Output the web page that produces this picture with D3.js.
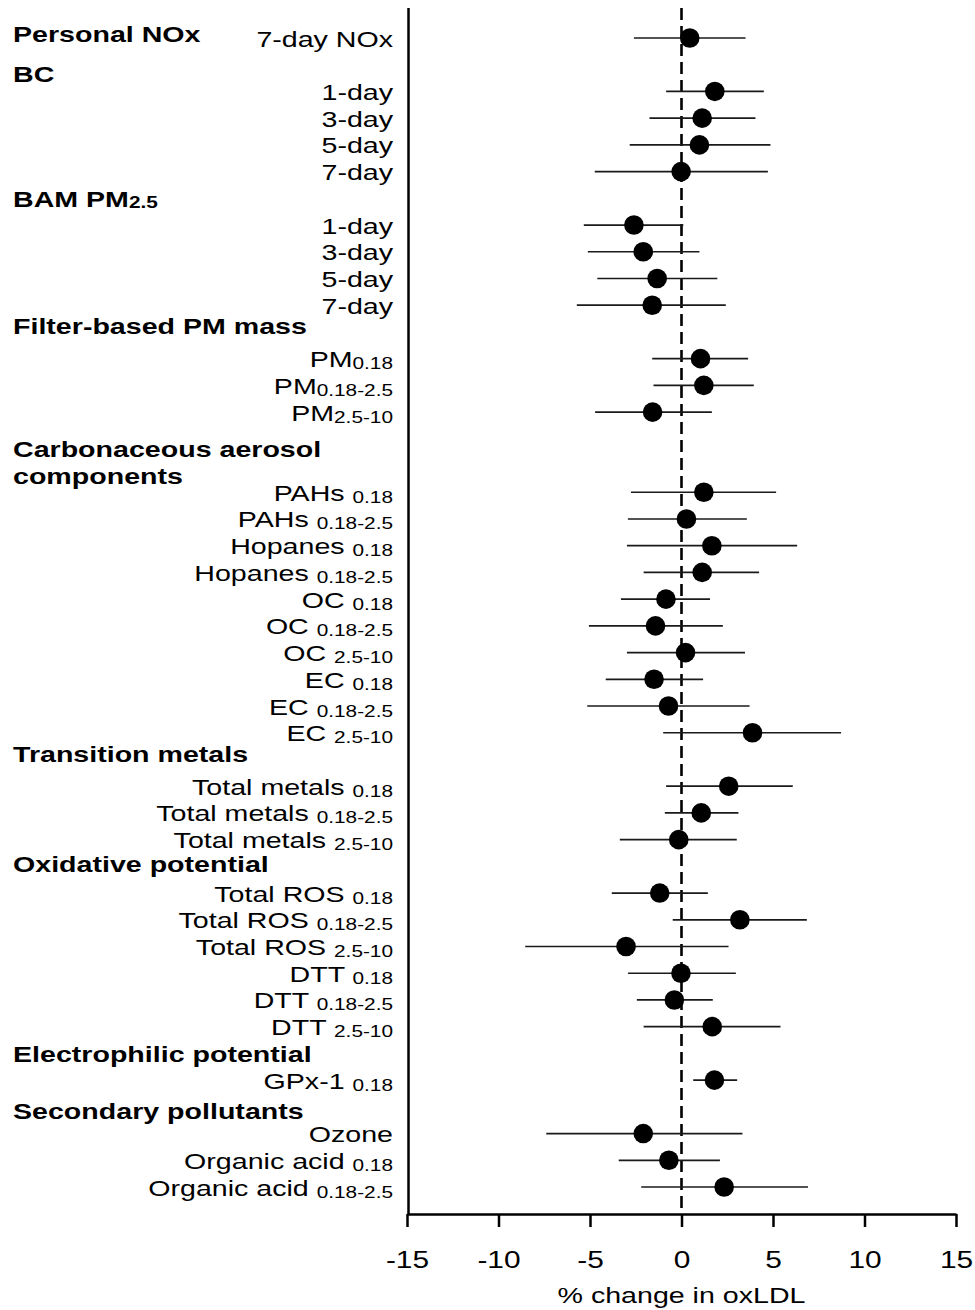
<!DOCTYPE html>
<html>
<head>
<meta charset="utf-8">
<script src="https://cdn.jsdelivr.net/npm/d3@7"></script>
<style>
  html, body { margin: 0; padding: 0; background: #fff; }
  svg { display: block; font-family: "Liberation Sans", Arial, sans-serif; }
</style>
</head>
<body>
<svg id="chart" width="975" height="1310"></svg>
<script>
// Exposure groups, in display order
const groupTitle = [
  "Personal NOx", "BC", "BAM PM", "Filter-based PM mass",
  "Carbonaceous aerosol|components", "Transition metals",
  "Oxidative potential", "Electrophilic potential", "Secondary pollutants"
];
const groupTitleSub = ["", "", "2.5", "", "", "", "", "", ""];
const groupSize = [1, 4, 4, 3, 10, 3, 6, 1, 3];

// Exposure metrics (main label + size-fraction subscript)
const itemLabel = [
  "7-day NOx",
  "1-day", "3-day", "5-day", "7-day",
  "1-day", "3-day", "5-day", "7-day",
  "PM", "PM", "PM",
  "PAHs ", "PAHs ", "Hopanes ", "Hopanes ", "OC ", "OC ", "OC ", "EC ", "EC ", "EC ",
  "Total metals ", "Total metals ", "Total metals ",
  "Total ROS ", "Total ROS ", "Total ROS ", "DTT ", "DTT ", "DTT ",
  "GPx-1 ",
  "Ozone", "Organic acid ", "Organic acid "
];
const itemSub = [
  "",
  "", "", "", "",
  "", "", "", "",
  "0.18", "0.18-2.5", "2.5-10",
  "0.18", "0.18-2.5", "0.18", "0.18-2.5", "0.18", "0.18-2.5", "2.5-10", "0.18", "0.18-2.5", "2.5-10",
  "0.18", "0.18-2.5", "2.5-10",
  "0.18", "0.18-2.5", "2.5-10", "0.18", "0.18-2.5", "2.5-10",
  "0.18",
  "", "0.18", "0.18-2.5"
];

// % change in oxLDL: point estimate and 95% CI
const estimate = [
  0.45,
  1.82, 1.13, 0.98, -0.02,
  -2.6, -2.09, -1.33, -1.6,
  1.04, 1.22, -1.58,
  1.22, 0.27, 1.66, 1.13, -0.85, -1.42, 0.22, -1.5, -0.71, 3.88,
  2.58, 1.08, -0.15,
  -1.19, 3.19, -3.03, -0.03, -0.39, 1.68,
  1.8,
  -2.09, -0.69, 2.33
];
const lower = [
  -2.6,
  -0.84, -1.75, -2.83, -4.74,
  -5.34, -5.12, -4.6, -5.72,
  -1.6, -1.53, -4.72,
  -2.76, -2.93, -2.98, -2.07, -3.31, -5.06, -2.98, -4.14, -5.15, -1.0,
  -0.84, -0.91, -3.37,
  -3.81, -0.48, -8.54, -2.92, -2.44, -2.07,
  0.64,
  -7.39, -3.43, -2.2
];
const upper = [
  3.5,
  4.5, 4.04, 4.86, 4.72,
  0.1, 0.98, 1.96, 2.42,
  3.64, 3.95, 1.66,
  5.17, 3.57, 6.32, 4.24, 1.56, 2.26, 3.47, 1.18, 3.72, 8.72,
  6.08, 3.11, 3.02,
  1.44, 6.85, 2.57, 2.97, 1.71, 5.41,
  3.04,
  3.33, 2.1, 6.91
];

const xTicks = [-15, -10, -5, 0, 5, 10, 15];
const xTitle = "% change in oxLDL";

// ---- layout settings
const SX = 1.3;                 // horizontal stretch of the lettering
const FONT = 22, SUBFONT = 16, TICKFONT = 23;
// fine vertical adjustment (px) of each group title's baseline
const titleShift = [-4.5, 9, 0, -6, 10, -6, -3, 0, 4];

// ---- row layout: each group title takes its own line(s), except the first,
// which shares a line with its single metric
const headerRows = [];
const items = [];
let slot = 0, k = 0;
groupTitle.forEach((t, g) => {
  const lines = t.split("|");
  headerRows.push({ lines, sub: groupTitleSub[g], slot, shift: titleShift[g] });
  if (g > 0) slot += lines.length;
  for (let i = 0; i < groupSize[g]; i++, k++) {
    items.push({
      label: itemLabel[k], sub: itemSub[k],
      est: estimate[k], lo: lower[k], hi: upper[k], slot: slot++
    });
  }
});

const svg = d3.select("#chart");

const x = d3.scaleLinear().domain([-15, 15]).range([407, 956]);
const y = d3.scalePoint().domain(d3.range(slot)).range([38, 1187]);
const axisY = 1214, topY = 8;

// reference line at zero
svg.append("line")
  .attr("x1", x(0)).attr("x2", x(0))
  .attr("y1", topY).attr("y2", axisY)
  .attr("stroke", "#000").attr("stroke-width", 2.6)
  .attr("stroke-dasharray", "12,6");

// left frame line
svg.append("line")
  .attr("x1", 408.5).attr("x2", 408.5)
  .attr("y1", topY).attr("y2", axisY)
  .attr("stroke", "#000").attr("stroke-width", 2.5);

// confidence intervals
svg.append("g").selectAll("line").data(items).join("line")
  .attr("x1", d => x(d.lo)).attr("x2", d => x(d.hi))
  .attr("y1", d => y(d.slot)).attr("y2", d => y(d.slot))
  .attr("stroke", "#1a1a1a").attr("stroke-width", 1.7);

// point estimates
svg.append("g").selectAll("circle").data(items).join("circle")
  .attr("cx", d => x(d.est)).attr("cy", d => y(d.slot))
  .attr("r", 9.8).attr("fill", "#000");

// metric labels
const lab = svg.append("g").selectAll("g").data(items).join("g")
  .attr("transform", d => `translate(393,${y(d.slot) + 8.5})`);
const labText = lab.append("text")
  .attr("transform", `scale(${SX},1)`)
  .attr("text-anchor", "end")
  .attr("font-size", FONT)
  .attr("fill", "#000");
labText.append("tspan").text(d => d.label);
labText.filter(d => d.sub).append("tspan")
  .attr("font-size", SUBFONT).attr("dy", 2).text(d => d.sub);

// group titles
headerRows.forEach((h, i) => {
  h.lines.forEach((line, j) => {
    const base = y(h.slot + j) + 8.5 + h.shift;
    const t = svg.append("text")
      .attr("transform", `translate(13,${base}) scale(${SX},1)`)
      .attr("font-size", FONT).attr("font-weight", "bold").attr("fill", "#000");
    t.append("tspan").text(line);
    if (h.sub && j === h.lines.length - 1) {
      t.append("tspan").attr("font-size", SUBFONT).attr("dy", 1).text(h.sub);
    }
  });
});

// x axis
const ax = svg.append("g")
  .attr("transform", `translate(0,${axisY})`)
  .call(d3.axisBottom(x).tickValues(xTicks).tickSize(13).tickSizeOuter(0).tickPadding(25)
    .tickFormat(d => String(d)));
ax.select(".domain").attr("stroke", "#000").attr("stroke-width", 2.5);
ax.selectAll(".tick line").attr("stroke", "#000").attr("stroke-width", 2.5);
ax.selectAll(".tick text")
  .attr("font-family", "Liberation Sans, Arial, sans-serif")
  .attr("font-size", TICKFONT).attr("fill", "#000")
  .attr("transform", `scale(${SX},1)`);

svg.append("text")
  .attr("transform", `translate(${x(0)},1303) scale(${SX},1)`)
  .attr("text-anchor", "middle")
  .attr("font-size", FONT).attr("fill", "#000")
  .text(xTitle);
</script>
</body>
</html>
